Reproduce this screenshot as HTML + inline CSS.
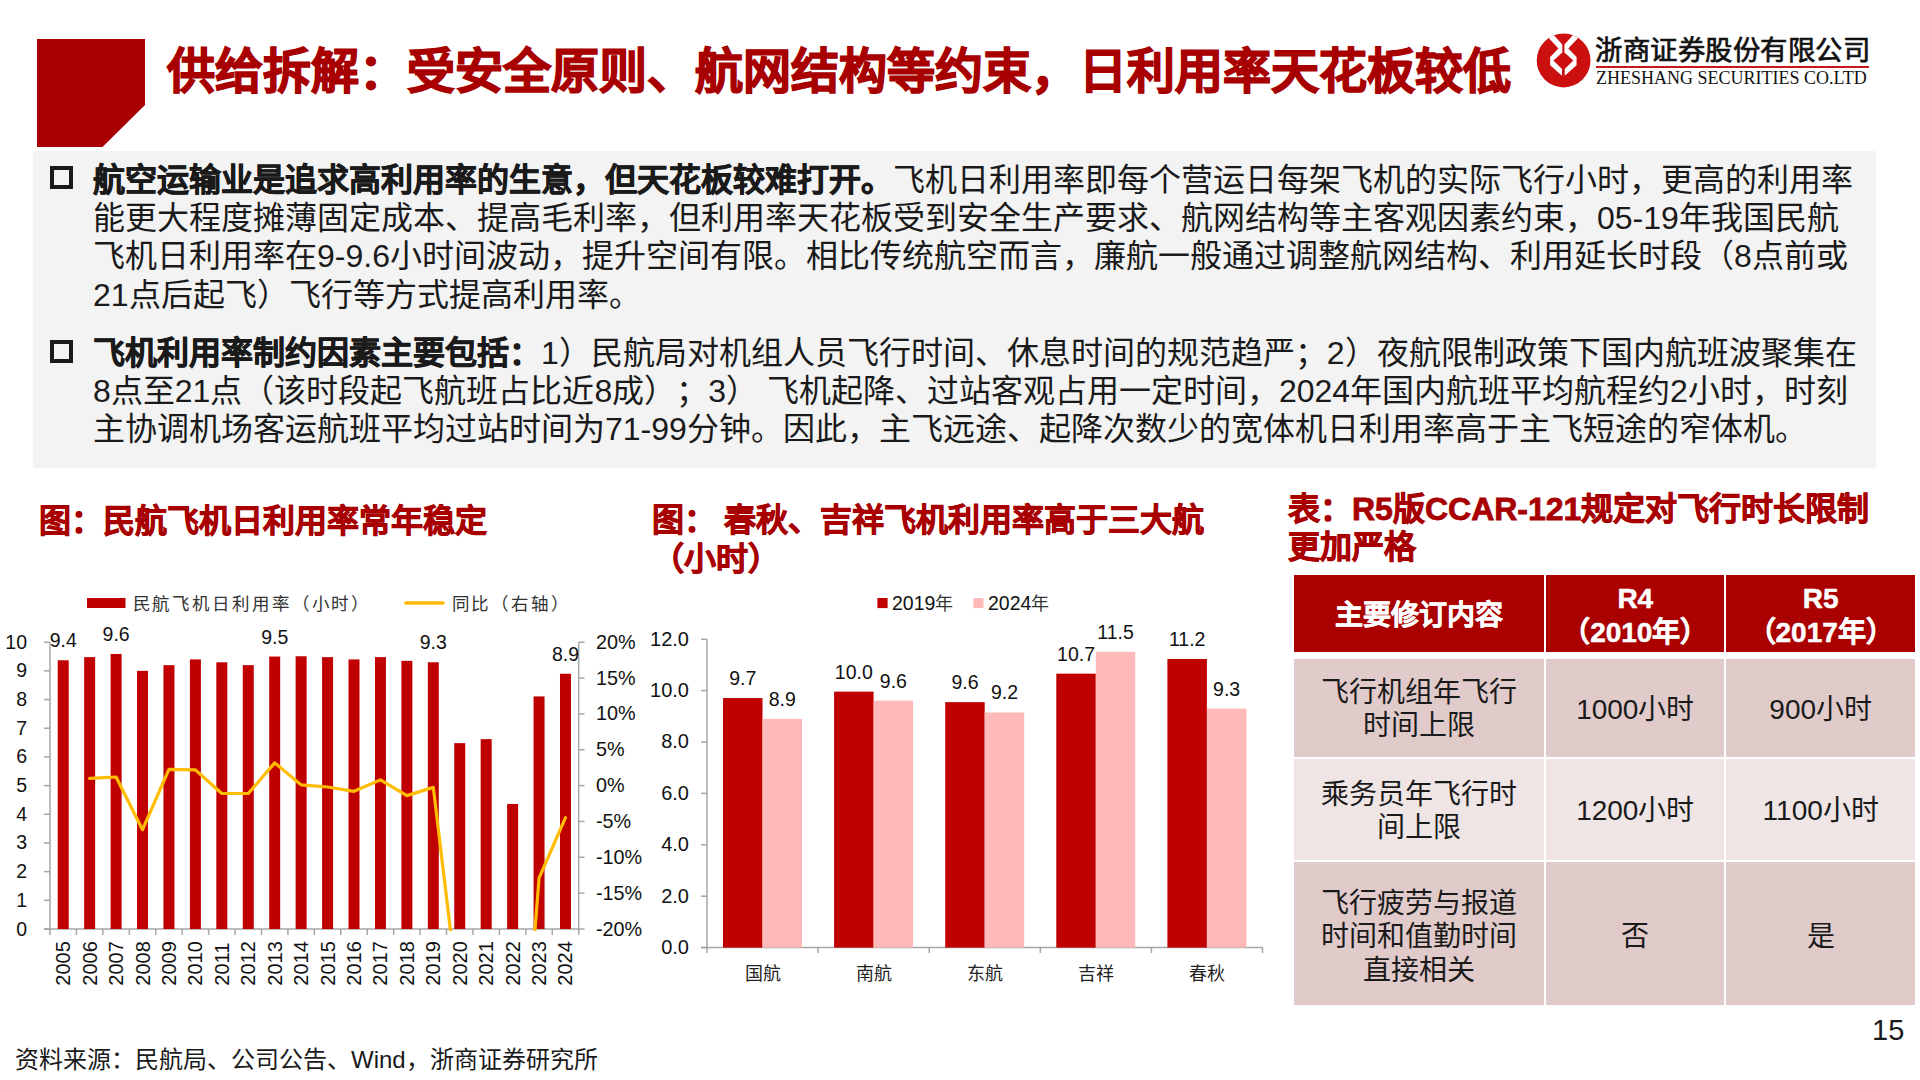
<!DOCTYPE html>
<html lang="zh-CN">
<head>
<meta charset="utf-8">
<style>
html,body{margin:0;padding:0;background:#fff;}
body{text-spacing-trim:space-all;width:1920px;height:1080px;position:relative;overflow:hidden;font-family:"Liberation Sans",sans-serif;color:#1a1a1a;}
.abs{position:absolute;white-space:nowrap;}
.title{left:167px;top:40px;font-size:48px;font-weight:bold;color:#A80000;line-height:64px;-webkit-text-stroke:1.3px #A80000;}
.panel{left:33px;top:151px;width:1843px;height:317px;background:#F3F3F3;}
.para{left:93px;font-size:32px;line-height:38.3px;color:#1a1a1a;}
.para b{font-weight:bold;-webkit-text-stroke:0.7px #1a1a1a;}
.bul{position:absolute;width:15px;height:15px;border:4.5px solid #1a1a1a;}
.cap{font-size:32px;font-weight:bold;color:#A80000;line-height:38px;-webkit-text-stroke:0.8px #A80000;}
.src{left:15px;top:1045px;font-size:24px;line-height:30px;color:#1a1a1a;}
.pg{left:1872px;top:1012.5px;font-size:29px;line-height:34px;color:#1a1a1a;}
table.t{position:absolute;left:1294px;top:575px;border-collapse:collapse;font-size:28px;line-height:33.5px;text-align:center;}
.cell{position:absolute;box-sizing:border-box;padding-top:3px;display:flex;align-items:center;justify-content:center;text-align:center;font-size:28px;line-height:33.5px;color:#1a1a1a;white-space:nowrap;}
.hdr{color:#fff;font-weight:bold;line-height:34px;padding-top:4px;-webkit-text-stroke:0.5px #fff;}
</style>
</head>
<body>
<!-- header decoration -->
<svg class="abs" style="left:0;top:0" width="200" height="160">
  <polygon points="37,39 145,39 145,105 102.5,147 37,147" fill="#A80000"/>
</svg>
<div class="abs title">供给拆解：受安全原则、航网结构等约束，日利用率天花板较低</div>

<!-- logo -->
<svg class="abs" style="left:1530px;top:28px" width="70" height="64" viewBox="0 0 1181 1080">
  <circle cx="567" cy="548" r="454" fill="#CC1010"/>
  <polygon fill="#fff" points="315,170 400,120 545,280 545,415 395,550 540,690 540,805 340,630 340,490 480,345"/>
  <polygon fill="#fff" points="811,170 726,120 581,280 581,415 731,550 586,690 586,805 786,630 786,490 646,345"/>
</svg>
<div class="abs" style="left:1595px;top:32.5px;font-size:27.4px;line-height:36px;letter-spacing:0.5px;-webkit-text-stroke:0.7px #111;color:#111;">浙商证券股份有限公司</div>
<div class="abs" style="left:1596px;top:65.5px;width:272.5px;height:2px;background:#C8161D;"></div>
<div class="abs" style="left:1596px;top:68px;font-family:'Liberation Serif',serif;font-size:18px;line-height:20px;color:#111;">ZHESHANG SECURITIES CO.LTD</div>

<!-- text panel -->
<div class="abs panel"></div>
<div class="bul" style="left:50px;top:166px;"></div>
<div class="bul" style="left:50px;top:340px;"></div>
<div class="abs para" style="top:160.8px;"><b>航空运输业是追求高利用率的生意，但天花板较难打开。</b>飞机日利用率即每个营运日每架飞机的实际飞行小时，更高的利用率<br>能更大程度摊薄固定成本、提高毛利率，但利用率天花板受到安全生产要求、航网结构等主客观因素约束，05-19年我国民航<br>飞机日利用率在9-9.6小时间波动，提升空间有限。相比传统航空而言，廉航一般通过调整航网结构、利用延长时段（8点前或<br>21点后起飞）飞行等方式提高利用率。</div>
<div class="abs para" style="top:333.8px;"><b>飞机利用率制约因素主要包括：</b>1）民航局对机组人员飞行时间、休息时间的规范趋严；2）夜航限制政策下国内航班波聚集在<br>8点至21点（该时段起飞航班占比近8成）；3） 飞机起降、过站客观占用一定时间，2024年国内航班平均航程约2小时，时刻<br>主协调机场客运航班平均过站时间为71-99分钟。因此，主飞远途、起降次数少的宽体机日利用率高于主飞短途的窄体机。</div>

<!-- captions -->
<div class="abs cap" style="left:38.5px;top:501.5px;">图：民航飞机日利用率常年稳定</div>
<div class="abs cap" style="left:651.5px;top:500.7px;line-height:39.2px;">图： 春秋、吉祥飞机利用率高于三大航<br>（小时）</div>
<div class="abs cap" style="left:1288px;top:490px;">表：R5版CCAR-121规定对飞行时长限制<br>更加严格</div>

<!-- CHARTS -->
<svg id="charts" class="abs" style="left:0;top:0;font-family:'Liberation Sans',sans-serif" fill="#111" width="1920" height="1080">
<g stroke="#A6A6A6" stroke-width="1.5" fill="none">
<path d="M50 642.2V929"/>
<path d="M44 929H50"/>
<path d="M44 900.32H50"/>
<path d="M44 871.64H50"/>
<path d="M44 842.96H50"/>
<path d="M44 814.28H50"/>
<path d="M44 785.6H50"/>
<path d="M44 756.92H50"/>
<path d="M44 728.24H50"/>
<path d="M44 699.56H50"/>
<path d="M44 670.88H50"/>
<path d="M44 642.2H50"/>
<path d="M44 929H578.7"/>
<path d="M50 929V935"/>
<path d="M76.44 929V935"/>
<path d="M102.87 929V935"/>
<path d="M129.31 929V935"/>
<path d="M155.74 929V935"/>
<path d="M182.18 929V935"/>
<path d="M208.61 929V935"/>
<path d="M235.05 929V935"/>
<path d="M261.48 929V935"/>
<path d="M287.92 929V935"/>
<path d="M314.35 929V935"/>
<path d="M340.79 929V935"/>
<path d="M367.22 929V935"/>
<path d="M393.66 929V935"/>
<path d="M420.09 929V935"/>
<path d="M446.53 929V935"/>
<path d="M472.96 929V935"/>
<path d="M499.4 929V935"/>
<path d="M525.83 929V935"/>
<path d="M552.27 929V935"/>
<path d="M578.7 929V935"/>
<path d="M578.7 642.2V929"/>
<path d="M578.7 642.2H584.5"/>
<path d="M578.7 678.05H584.5"/>
<path d="M578.7 713.9H584.5"/>
<path d="M578.7 749.75H584.5"/>
<path d="M578.7 785.6H584.5"/>
<path d="M578.7 821.45H584.5"/>
<path d="M578.7 857.3H584.5"/>
<path d="M578.7 893.15H584.5"/>
<path d="M578.7 929H584.5"/>
</g>
<rect x="57.72" y="660.27" width="11" height="268.73" fill="#C00000"/>
<rect x="84.15" y="657.11" width="11" height="271.89" fill="#C00000"/>
<rect x="110.59" y="653.96" width="11" height="275.04" fill="#C00000"/>
<rect x="137.02" y="670.88" width="11" height="258.12" fill="#C00000"/>
<rect x="163.46" y="665.14" width="11" height="263.86" fill="#C00000"/>
<rect x="189.89" y="659.41" width="11" height="269.59" fill="#C00000"/>
<rect x="216.33" y="662.28" width="11" height="266.72" fill="#C00000"/>
<rect x="242.76" y="665.14" width="11" height="263.86" fill="#C00000"/>
<rect x="269.2" y="656.54" width="11" height="272.46" fill="#C00000"/>
<rect x="295.63" y="656.25" width="11" height="272.75" fill="#C00000"/>
<rect x="322.07" y="657.11" width="11" height="271.89" fill="#C00000"/>
<rect x="348.5" y="659.41" width="11" height="269.59" fill="#C00000"/>
<rect x="374.94" y="657.11" width="11" height="271.89" fill="#C00000"/>
<rect x="401.37" y="660.84" width="11" height="268.16" fill="#C00000"/>
<rect x="427.81" y="662.28" width="11" height="266.72" fill="#C00000"/>
<rect x="454.24" y="743.15" width="11" height="185.85" fill="#C00000"/>
<rect x="480.68" y="739.14" width="11" height="189.86" fill="#C00000"/>
<rect x="507.11" y="803.96" width="11" height="125.04" fill="#C00000"/>
<rect x="533.55" y="696.41" width="11" height="232.59" fill="#C00000"/>
<rect x="559.98" y="673.75" width="11" height="255.25" fill="#C00000"/>
<text x="63.22" y="647.27" text-anchor="middle" font-size="19.5">9.4</text>
<text x="116.09" y="640.96" text-anchor="middle" font-size="19.5">9.6</text>
<text x="274.7" y="643.54" text-anchor="middle" font-size="19.5">9.5</text>
<text x="433.31" y="649.28" text-anchor="middle" font-size="19.5">9.3</text>
<text x="565.48" y="660.75" text-anchor="middle" font-size="19.5">8.9</text>
<text x="27" y="935.5" text-anchor="end" font-size="19.5">0</text>
<text x="27" y="906.82" text-anchor="end" font-size="19.5">1</text>
<text x="27" y="878.14" text-anchor="end" font-size="19.5">2</text>
<text x="27" y="849.46" text-anchor="end" font-size="19.5">3</text>
<text x="27" y="820.78" text-anchor="end" font-size="19.5">4</text>
<text x="27" y="792.1" text-anchor="end" font-size="19.5">5</text>
<text x="27" y="763.42" text-anchor="end" font-size="19.5">6</text>
<text x="27" y="734.74" text-anchor="end" font-size="19.5">7</text>
<text x="27" y="706.06" text-anchor="end" font-size="19.5">8</text>
<text x="27" y="677.38" text-anchor="end" font-size="19.5">9</text>
<text x="27" y="648.7" text-anchor="end" font-size="19.5">10</text>
<text x="596" y="648.7" font-size="19.8">20%</text>
<text x="596" y="684.55" font-size="19.8">15%</text>
<text x="596" y="720.4" font-size="19.8">10%</text>
<text x="596" y="756.25" font-size="19.8">5%</text>
<text x="596" y="792.1" font-size="19.8">0%</text>
<text x="596" y="827.95" font-size="19.8">-5%</text>
<text x="596" y="863.8" font-size="19.8">-10%</text>
<text x="596" y="899.65" font-size="19.8">-15%</text>
<text x="596" y="935.5" font-size="19.8">-20%</text>
<text transform="translate(70.22 985.7) rotate(-90)" font-size="20">2005</text>
<text transform="translate(96.65 985.7) rotate(-90)" font-size="20">2006</text>
<text transform="translate(123.09 985.7) rotate(-90)" font-size="20">2007</text>
<text transform="translate(149.52 985.7) rotate(-90)" font-size="20">2008</text>
<text transform="translate(175.96 985.7) rotate(-90)" font-size="20">2009</text>
<text transform="translate(202.39 985.7) rotate(-90)" font-size="20">2010</text>
<text transform="translate(228.83 985.7) rotate(-90)" font-size="20">2011</text>
<text transform="translate(255.26 985.7) rotate(-90)" font-size="20">2012</text>
<text transform="translate(281.7 985.7) rotate(-90)" font-size="20">2013</text>
<text transform="translate(308.13 985.7) rotate(-90)" font-size="20">2014</text>
<text transform="translate(334.57 985.7) rotate(-90)" font-size="20">2015</text>
<text transform="translate(361 985.7) rotate(-90)" font-size="20">2016</text>
<text transform="translate(387.44 985.7) rotate(-90)" font-size="20">2017</text>
<text transform="translate(413.87 985.7) rotate(-90)" font-size="20">2018</text>
<text transform="translate(440.31 985.7) rotate(-90)" font-size="20">2019</text>
<text transform="translate(466.74 985.7) rotate(-90)" font-size="20">2020</text>
<text transform="translate(493.18 985.7) rotate(-90)" font-size="20">2021</text>
<text transform="translate(519.61 985.7) rotate(-90)" font-size="20">2022</text>
<text transform="translate(546.05 985.7) rotate(-90)" font-size="20">2023</text>
<text transform="translate(572.48 985.7) rotate(-90)" font-size="20">2024</text>
<clipPath id="c1"><rect x="40" y="600" width="560" height="331"/></clipPath>
<polyline clip-path="url(#c1)" points="89.65,778.43 116.09,777 142.52,829.7 168.96,769.32 195.39,769.83 221.83,793.49 248.26,793.49 274.7,762.87 301.13,784.88 327.57,787.03 354,791.34 380.44,779.86 406.87,795.64 433.31,787.39 459.74,1007.87 486.18,1007.87 512.61,1215.8 539.05,878.09 565.48,817.65" fill="none" stroke="#FFBC00" stroke-width="3.2" stroke-linejoin="round" stroke-linecap="round"/>
<rect x="87" y="598" width="38.5" height="10" fill="#C00000"/>
<text x="132.5" y="609.5" font-size="17.5" letter-spacing="2.9" fill="#333">民航飞机日利用率（小时）</text>
<path d="M406 603H443" stroke="#FFBC00" stroke-width="3.7" stroke-linecap="round"/>
<text x="451.5" y="609.5" font-size="17.5" letter-spacing="2.9" fill="#333">同比（右轴）</text>
<g stroke="#A6A6A6" stroke-width="1.5" fill="none">
<path d="M707 639.2V947.6"/>
<path d="M701 947.6H707"/>
<path d="M701 896.2H707"/>
<path d="M701 844.8H707"/>
<path d="M701 793.4H707"/>
<path d="M701 742H707"/>
<path d="M701 690.6H707"/>
<path d="M701 639.2H707"/>
<path d="M701 947.6H1262.5"/>
<path d="M707 947.6V953"/>
<path d="M818.1 947.6V953"/>
<path d="M929.2 947.6V953"/>
<path d="M1040.3 947.6V953"/>
<path d="M1151.4 947.6V953"/>
<path d="M1262.5 947.6V953"/>
</g>
<rect x="723" y="698.05" width="39.5" height="249.55" fill="#C00000"/>
<rect x="762.5" y="718.87" width="39.5" height="228.73" fill="#FFB9B9"/>
<text x="742.75" y="685.05" text-anchor="middle" font-size="19.5">9.7</text>
<text x="782.25" y="705.87" text-anchor="middle" font-size="19.5">8.9</text>
<text x="762.55" y="980" text-anchor="middle" font-size="18" fill="#222">国航</text>
<rect x="834.1" y="691.63" width="39.5" height="255.97" fill="#C00000"/>
<rect x="873.6" y="700.62" width="39.5" height="246.98" fill="#FFB9B9"/>
<text x="853.85" y="678.63" text-anchor="middle" font-size="19.5">10.0</text>
<text x="893.35" y="687.62" text-anchor="middle" font-size="19.5">9.6</text>
<text x="873.65" y="980" text-anchor="middle" font-size="18" fill="#222">南航</text>
<rect x="945.2" y="702.16" width="39.5" height="245.44" fill="#C00000"/>
<rect x="984.7" y="712.45" width="39.5" height="235.15" fill="#FFB9B9"/>
<text x="964.95" y="689.16" text-anchor="middle" font-size="19.5">9.6</text>
<text x="1004.45" y="699.45" text-anchor="middle" font-size="19.5">9.2</text>
<text x="984.75" y="980" text-anchor="middle" font-size="18" fill="#222">东航</text>
<rect x="1056.3" y="673.64" width="39.5" height="273.96" fill="#C00000"/>
<rect x="1095.8" y="651.79" width="39.5" height="295.81" fill="#FFB9B9"/>
<text x="1076.05" y="660.64" text-anchor="middle" font-size="19.5">10.7</text>
<text x="1115.55" y="638.79" text-anchor="middle" font-size="19.5">11.5</text>
<text x="1095.85" y="980" text-anchor="middle" font-size="18" fill="#222">吉祥</text>
<rect x="1167.4" y="658.99" width="39.5" height="288.61" fill="#C00000"/>
<rect x="1206.9" y="708.59" width="39.5" height="239.01" fill="#FFB9B9"/>
<text x="1187.15" y="645.99" text-anchor="middle" font-size="19.5">11.2</text>
<text x="1226.65" y="695.59" text-anchor="middle" font-size="19.5">9.3</text>
<text x="1206.95" y="980" text-anchor="middle" font-size="18" fill="#222">春秋</text>
<text x="689" y="953.9" text-anchor="end" font-size="20">0.0</text>
<text x="689" y="902.5" text-anchor="end" font-size="20">2.0</text>
<text x="689" y="851.1" text-anchor="end" font-size="20">4.0</text>
<text x="689" y="799.7" text-anchor="end" font-size="20">6.0</text>
<text x="689" y="748.3" text-anchor="end" font-size="20">8.0</text>
<text x="689" y="696.9" text-anchor="end" font-size="20">10.0</text>
<text x="689" y="645.5" text-anchor="end" font-size="20">12.0</text>
<rect x="877.4" y="598" width="10.2" height="10.1" fill="#C00000"/>
<text x="892" y="609.6" font-size="19.5">2019<tspan fill="#333" font-size="18">年</tspan></text>
<rect x="973.3" y="598" width="10.2" height="10.1" fill="#FFB9B9"/>
<text x="988" y="609.6" font-size="19.5">2024<tspan fill="#333" font-size="18">年</tspan></text>
</svg>

<!-- TABLE -->
<div class="cell hdr" style="left:1294px;top:575.2px;width:250.4px;height:77.3px;background:#AA0000;"><span>主要修订内容</span></div>
<div class="cell hdr" style="left:1546.4px;top:575.2px;width:177.8px;height:77.3px;background:#AA0000;"><span>R4<br>（2010年）</span></div>
<div class="cell hdr" style="left:1726.4px;top:575.2px;width:188.6px;height:77.3px;background:#AA0000;"><span>R5<br>（2017年）</span></div>
<div class="cell" style="left:1294px;top:658.8px;width:250.4px;height:98px;background:#E0CACA;"><span>飞行机组年飞行<br>时间上限</span></div>
<div class="cell" style="left:1546.4px;top:658.8px;width:177.8px;height:98px;background:#E0CACA;"><span>1000小时</span></div>
<div class="cell" style="left:1726.4px;top:658.8px;width:188.6px;height:98px;background:#E0CACA;"><span>900小时</span></div>
<div class="cell" style="left:1294px;top:759.4px;width:250.4px;height:100.6px;background:#EFE5E5;"><span>乘务员年飞行时<br>间上限</span></div>
<div class="cell" style="left:1546.4px;top:759.4px;width:177.8px;height:100.6px;background:#EFE5E5;"><span>1200小时</span></div>
<div class="cell" style="left:1726.4px;top:759.4px;width:188.6px;height:100.6px;background:#EFE5E5;"><span>1100小时</span></div>
<div class="cell" style="left:1294px;top:862.2px;width:250.4px;height:142.8px;background:#E0CACA;padding-top:6.5px;"><span>飞行疲劳与报道<br>时间和值勤时间<br>直接相关</span></div>
<div class="cell" style="left:1546.4px;top:862.2px;width:177.8px;height:142.8px;background:#E0CACA;padding-top:6.5px;"><span>否</span></div>
<div class="cell" style="left:1726.4px;top:862.2px;width:188.6px;height:142.8px;background:#E0CACA;padding-top:6.5px;"><span>是</span></div>

<div class="abs src">资料来源：民航局、公司公告、Wind，浙商证券研究所</div>
<div class="abs pg">15</div>
</body>
</html>
